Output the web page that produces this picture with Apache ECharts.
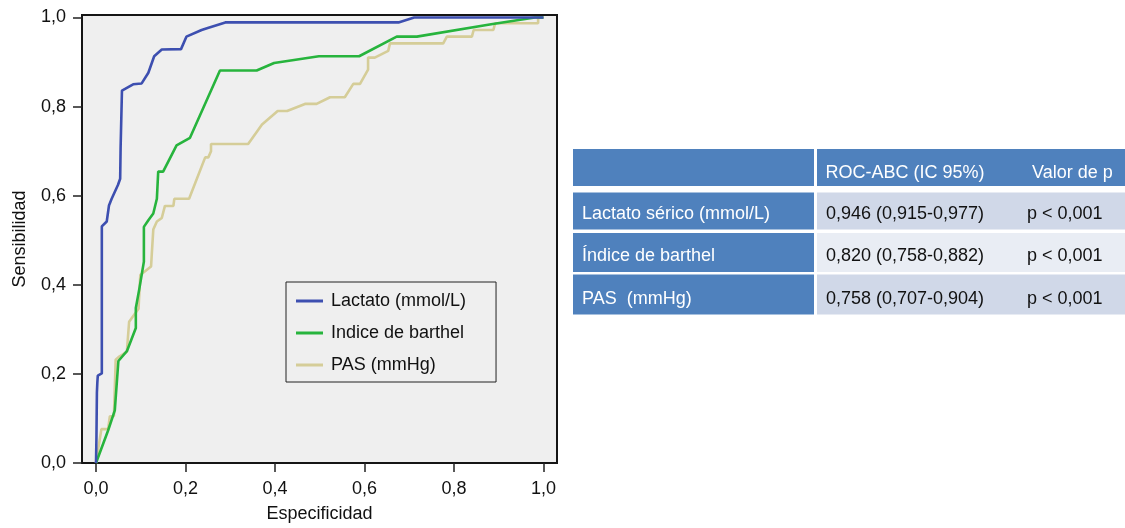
<!DOCTYPE html>
<html><head><meta charset="utf-8">
<script src="https://cdn.jsdelivr.net/npm/echarts@6/dist/echarts.min.js"></script>
<style>html,body{margin:0;padding:0;background:#fff}#c{width:1125px;height:528px}</style>
</head><body><div id="c"></div>
<script>
// ---- data ----
const seriesNames = ['Lactato (mmol/L)', 'Indice de barthel', 'PAS (mmHg)'];
const seriesColors = ['#3d4fb0', '#27b43d', '#d5cd98'];
const xAxisName = 'Especificidad';
const yAxisName = 'Sensibilidad';
const tickValues = [0, 0.2, 0.4, 0.6, 0.8, 1.0];
const tickLabels = ['0,0', '0,2', '0,4', '0,6', '0,8', '1,0'];

const lactato = [
  [0, 0], [0.001, 0.058], [0.002, 0.158], [0.003, 0.181], [0.004, 0.196], [0.013, 0.201],
  [0.013, 0.531], [0.024, 0.542], [0.029, 0.578], [0.035, 0.593], [0.039, 0.595],
  [0.049, 0.624], [0.054, 0.638], [0.055, 0.709], [0.058, 0.836], [0.061, 0.837],
  [0.083, 0.850], [0.102, 0.852], [0.117, 0.876], [0.130, 0.913], [0.147, 0.928],
  [0.190, 0.929], [0.202, 0.957], [0.236, 0.972], [0.248, 0.976], [0.289, 0.989],
  [0.676, 0.989], [0.711, 1.0], [1.0, 1.0]
];
const barthel = [
  [0, 0], [0.027, 0.073], [0.042, 0.118], [0.050, 0.229], [0.069, 0.251], [0.089, 0.303],
  [0.089, 0.348], [0.097, 0.392], [0.102, 0.422], [0.107, 0.452], [0.107, 0.530],
  [0.117, 0.545], [0.128, 0.560], [0.136, 0.593], [0.139, 0.654], [0.150, 0.654],
  [0.180, 0.713], [0.210, 0.730], [0.277, 0.881], [0.359, 0.881], [0.398, 0.898],
  [0.498, 0.913], [0.588, 0.913], [0.672, 0.957], [0.717, 0.957], [0.883, 0.985],
  [0.981, 1.0], [1.0, 1.0]
];
const pas = [
  [0, 0], [0.012, 0.076], [0.027, 0.076], [0.031, 0.105], [0.040, 0.105], [0.044, 0.232],
  [0.052, 0.239], [0.060, 0.244], [0.069, 0.250], [0.074, 0.317], [0.095, 0.346],
  [0.099, 0.422], [0.123, 0.441], [0.128, 0.524], [0.136, 0.542], [0.147, 0.550],
  [0.154, 0.577], [0.173, 0.577], [0.175, 0.593], [0.208, 0.593], [0.244, 0.686],
  [0.251, 0.686], [0.257, 0.700], [0.257, 0.716], [0.340, 0.716], [0.371, 0.760],
  [0.406, 0.790], [0.427, 0.790], [0.467, 0.806], [0.493, 0.806], [0.523, 0.821],
  [0.556, 0.821], [0.575, 0.851], [0.590, 0.851], [0.608, 0.883], [0.608, 0.910],
  [0.623, 0.910], [0.653, 0.925], [0.657, 0.942], [0.776, 0.942], [0.784, 0.957],
  [0.840, 0.957], [0.844, 0.972], [0.888, 0.972], [0.892, 0.987], [0.988, 0.987],
  [0.988, 1.0], [1.0, 1.0]
];
const seriesData = [lactato, barthel, pas];

const tableHeader = ['', 'ROC-ABC (IC 95%)', 'Valor de p'];
const tableRowLabels = ['Lactato sérico (mmol/L)', 'Índice de barthel', 'PAS  (mmHg)'];
const tableAuc = ['0,946 (0,915-0,977)', '0,820 (0,758-0,882)', '0,758 (0,707-0,904)'];
const tablePValues = ['p < 0,001', 'p < 0,001', 'p < 0,001'];

// ---- layout / style ----
const FONT = "'Liberation Sans', Arial, Helvetica, sans-serif";
const TXT = '#111';
const fmt = v => {
  const i = tickValues.findIndex(t => Math.abs(t - v) < 1e-6);
  return i >= 0 ? tickLabels[i] : '';
};
// axis extents: the frame extends a little beyond the 0..1 range
const X_MIN = -0.0313, X_MAX = 1.0302, Y_MIN = 0, Y_MAX = 1.0056;

const graphic = [];
const tbl = {
  col1X: 573, col1W: 241, col2X: 817, col2W: 308,
  headY: 149, headH: 37,
  rowY: [192.5, 233, 274.5], rowH: [37, 39, 40],
  rowFill: ['#d0d8e8', '#e9edf4', '#d0d8e8'],
  blue: '#4f81bd',
  textX: [582, 826, 1027], headTextX: [582, 825.5, 1032],
  headTextY: 173, rowTextY: [214, 256.5, 299]
};
graphic.push({ type: 'rect', shape: { x: tbl.col1X, y: tbl.headY, width: tbl.col1W, height: tbl.headH }, style: { fill: tbl.blue } });
graphic.push({ type: 'rect', shape: { x: tbl.col2X, y: tbl.headY, width: tbl.col2W, height: tbl.headH }, style: { fill: tbl.blue } });
tableHeader.forEach((h, i) => {
  if (!h) return;
  graphic.push({ type: 'text', x: tbl.headTextX[i], y: tbl.headTextY,
    style: { text: h, fill: '#fff', font: '18px ' + FONT, verticalAlign: 'middle' } });
});
tableRowLabels.forEach((lab, r) => {
  graphic.push({ type: 'rect', shape: { x: tbl.col1X, y: tbl.rowY[r], width: tbl.col1W, height: tbl.rowH[r] }, style: { fill: tbl.blue } });
  graphic.push({ type: 'rect', shape: { x: tbl.col2X, y: tbl.rowY[r], width: tbl.col2W, height: tbl.rowH[r] }, style: { fill: tbl.rowFill[r] } });
  graphic.push({ type: 'text', x: tbl.textX[0], y: tbl.rowTextY[r],
    style: { text: lab, fill: '#fff', font: '18px ' + FONT, verticalAlign: 'middle' } });
  graphic.push({ type: 'text', x: tbl.textX[1], y: tbl.rowTextY[r],
    style: { text: tableAuc[r], fill: TXT, font: '18px ' + FONT, verticalAlign: 'middle' } });
  graphic.push({ type: 'text', x: tbl.textX[2], y: tbl.rowTextY[r],
    style: { text: tablePValues[r], fill: TXT, font: '18px ' + FONT, verticalAlign: 'middle' } });
});

const chart = echarts.init(document.getElementById('c'), null, { renderer: 'canvas' });
chart.setOption({
  backgroundColor: '#fff',
  animation: false,
  textStyle: { fontFamily: FONT },
  grid: { left: 82, top: 15, width: 475, height: 451, show: true, backgroundColor: '#efefef',
    borderColor: '#151515', borderWidth: 2 },
  xAxis: {
    type: 'value', min: X_MIN, max: X_MAX,
    name: xAxisName, nameLocation: 'middle', nameGap: 42,
    nameTextStyle: { fontSize: 18, color: TXT, fontFamily: FONT },
    axisLine: { show: false, onZero: false },
    axisTick: { show: true, length: 9, customValues: tickValues, lineStyle: { color: '#222', width: 1.5 } },
    axisLabel: { fontSize: 18, color: TXT, margin: 17, customValues: tickValues, formatter: fmt, fontFamily: FONT },
    splitLine: { show: false }
  },
  yAxis: {
    type: 'value', min: Y_MIN, max: Y_MAX,
    name: yAxisName, nameLocation: 'middle', nameGap: 53, nameRotate: 90,
    nameTextStyle: { fontSize: 18, color: TXT, fontFamily: FONT },
    axisLine: { show: false, onZero: false },
    axisTick: { show: true, length: 9, customValues: tickValues, lineStyle: { color: '#222', width: 1.5 } },
    axisLabel: { fontSize: 18, color: TXT, margin: 16, customValues: tickValues, formatter: fmt, fontFamily: FONT },
    splitLine: { show: false }
  },
  legend: {
    orient: 'vertical', left: 286, top: 282,
    padding: [8, 30, 6, 10], itemWidth: 27, itemHeight: 3, itemGap: 10,
    icon: 'rect', backgroundColor: '#efefef', borderColor: '#222', borderWidth: 1,
    textStyle: { fontSize: 18, color: TXT, fontFamily: FONT, lineHeight: 22, padding: [0, 0, 0, 3] },
    data: seriesNames
  },
  series: seriesData.map((d, i) => ({
    name: seriesNames[i], type: 'line',
    data: d, showSymbol: false, symbol: 'none', smooth: false,
    lineStyle: { color: seriesColors[i], width: 2.6 },
    itemStyle: { color: seriesColors[i] },
    z: 10 - i
  })),
  graphic: graphic
});
</script></body></html>
